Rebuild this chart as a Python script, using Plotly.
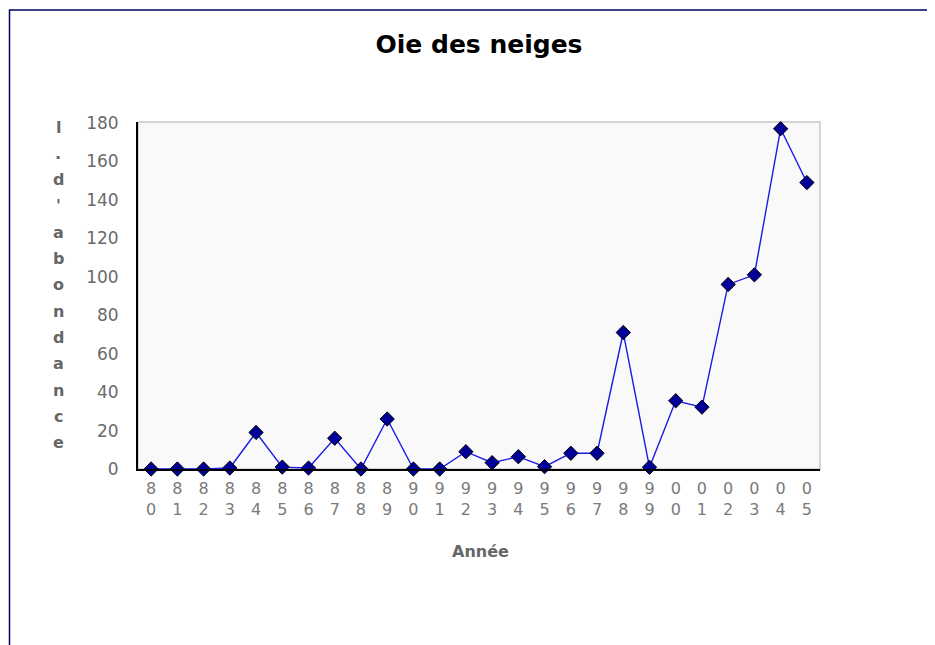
import plotly.graph_objects as go

years = ["80","81","82","83","84","85","86","87","88","89","90","91","92","93","94","95","96","97","98","99","00","01","02","03","04","05"]
values = [0, 0, 0, 0.5, 19, 1, 0.5, 16, 0, 26, 0, 0, 9, 3.3, 6.4, 1.2, 8.2, 8.2, 71, 0.9, 35.5, 32.2, 96, 101, 177, 149]
tick_labels = [y[0] + "<br>" + y[1] for y in years]
ytitle = "l.d'abondance"
title = "Oie des neiges"
xtitle = "Année"

OFF = 8  # page body margin
W, H = 935, 645
# plot area in reference pixels: x 138..820, y 122..469
L, T = 138 - OFF, 122 - OFF
pw, ph = 682, 347
R, B = W - L - pw, H - T - ph

def px_x(x):
    return (x - OFF - L) / pw

def px_y(y):
    return (T + ph - (y - OFF)) / ph

fam = "DejaVu Sans, Verdana, sans-serif"

fig = go.Figure()
fig.add_trace(go.Scatter(
    x=list(range(len(years))), y=values, mode="lines+markers",
    line=dict(color="#1a1ae6", width=1.4),
    marker=dict(symbol="diamond", size=11, color="#000099", line=dict(color="#000000", width=1)),
    cliponaxis=False, hoverinfo="skip",
))

fig.update_layout(
    width=W, height=H,
    margin=dict(l=L, r=R, t=T, b=B),
    paper_bgcolor="white", plot_bgcolor="#f9f9f9",
    showlegend=False,
    font=dict(family=fam, color="#666666"),
    title=dict(text="<b>" + title + "</b>", x=px_x(479), xref="paper", xanchor="center",
               y=1 - (44 - OFF) / H, yanchor="middle", font=dict(size=25, color="#000000", family=fam)),
    xaxis=dict(range=[-0.5, len(years) - 0.5], tickmode="array",
               tickvals=list(range(len(years))), ticktext=tick_labels,
               showgrid=False, zeroline=False, showline=True, linecolor="#000000", linewidth=2,
               ticks="", tickfont=dict(size=16, color="#7a7a7a"), ticklabelstandoff=4,
               fixedrange=True),
    yaxis=dict(range=[0, 180.5], tickmode="array", tickvals=list(range(0, 181, 20)),
               showgrid=False, zeroline=False, showline=True, linecolor="#000000", linewidth=2,
               ticks="", tickfont=dict(size=17, color="#6a6a6a"), ticklabelstandoff=14,
               fixedrange=True),
)

# x axis title
fig.add_annotation(text="<b>" + xtitle + "</b>", xref="paper", yref="paper",
                   x=px_x(480), y=px_y(551), showarrow=False, xanchor="center", yanchor="middle",
                   font=dict(size=16, color="#666666", family=fam))

# plot area border (grey top/right)
fig.add_shape(type="rect", xref="paper", yref="paper", x0=0, x1=1, y0=0, y1=1,
              line=dict(color="#c8c8c8", width=1.5), layer="below")
# outer frame (dark navy, left and top visible)
fig.add_shape(type="rect", xref="paper", yref="paper",
              x0=px_x(9.5), x1=px_x(W + 40), y0=px_y(H + 40), y1=px_y(10),
              line=dict(color="#000066", width=1.5))

# stacked vertical y title letters
y0, step = 127, 26.3
for i, ch in enumerate(ytitle):
    fig.add_annotation(text="<b>" + ch + "</b>", xref="paper", yref="paper",
                       x=px_x(58), y=px_y(y0 + i * step), showarrow=False,
                       xanchor="center", yanchor="middle",
                       font=dict(size=16, color="#666666", family=fam))

fig.write_html("out.html")
